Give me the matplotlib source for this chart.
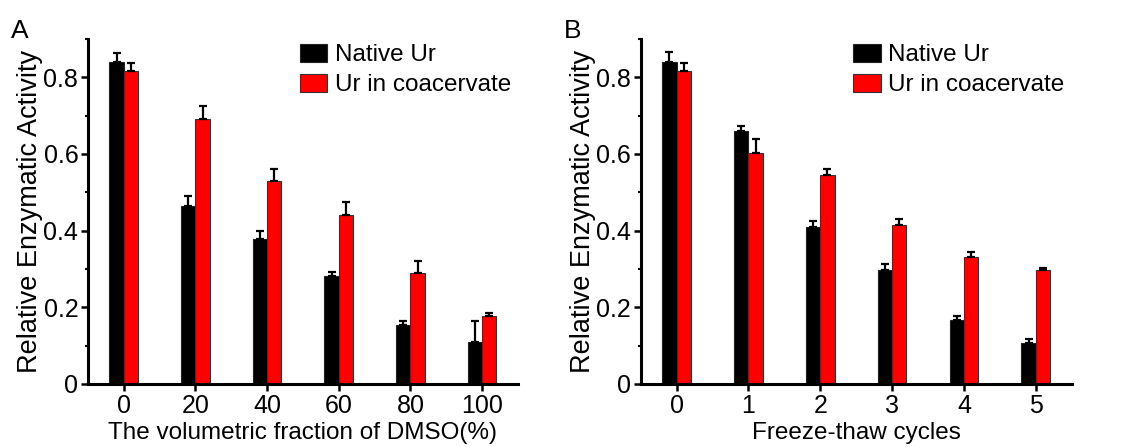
import numpy as np
import matplotlib
matplotlib.use('Agg')
import matplotlib.pyplot as plt
from matplotlib.ticker import MultipleLocator

plt.rcParams['font.family'] = ['Liberation Sans', 'DejaVu Sans']

# panel A: DMSO fraction
dmso = [0, 20, 40, 60, 80, 100]
dmso_native = [0.839, 0.463, 0.377, 0.281, 0.155, 0.110]
dmso_native_err = [0.024, 0.027, 0.022, 0.012, 0.009, 0.053]
dmso_coac = [0.815, 0.692, 0.530, 0.440, 0.290, 0.177]
dmso_coac_err = [0.021, 0.034, 0.030, 0.035, 0.030, 0.009]

# panel B: freeze-thaw cycles
cycles = [0, 1, 2, 3, 4, 5]
ft_native = [0.839, 0.661, 0.409, 0.297, 0.166, 0.106]
ft_native_err = [0.026, 0.011, 0.015, 0.015, 0.011, 0.012]
ft_coac = [0.815, 0.602, 0.545, 0.414, 0.330, 0.296]
ft_coac_err = [0.022, 0.037, 0.016, 0.015, 0.013, 0.006]

fig = plt.figure(figsize=(11.21, 4.47), dpi=100)
axA = fig.add_axes([0.0785, 0.141, 0.3835, 0.772])
axB = fig.add_axes([0.5715, 0.141, 0.3845, 0.772])

ekw = dict(elinewidth=1.6, capthick=1.6, capsize=3.2, ecolor='black')


def draw(ax, x, nat, nat_err, coa, coa_err, width, xlabel, ticklabels):
    x = np.array(x, dtype=float)
    z = np.zeros(len(x))
    ax.bar(x - width / 2, nat, width, yerr=[z, nat_err], color='black',
           edgecolor='#222222', linewidth=0.8, error_kw=ekw, label='Native Ur')
    ax.bar(x + width / 2, coa, width, yerr=[z, coa_err], color='#ff0000',
           edgecolor='#333333', linewidth=0.8, error_kw=ekw, label='Ur in coacervate')
    ax.set_ylim(0, 0.9)
    ax.set_yticks([0, 0.2, 0.4, 0.6, 0.8])
    ax.set_yticklabels(['0', '0.2', '0.4', '0.6', '0.8'])
    ax.yaxis.set_minor_locator(MultipleLocator(0.1))
    ax.set_xticks(x)
    ax.set_xticklabels(ticklabels)
    for s in ['top', 'right']:
        ax.spines[s].set_visible(False)
    for s in ['left', 'bottom']:
        ax.spines[s].set_linewidth(2.2)
    ax.tick_params(axis='both', which='major', direction='out', length=5,
                   width=1.8, labelsize=18, pad=2)
    ax.tick_params(axis='y', which='minor', direction='out', length=2.5, width=1.5)
    ax.set_xlabel(xlabel, fontsize=17.5, labelpad=3)
    ax.set_ylabel('Relative Enzymatic Activity', fontsize=19.5, labelpad=0)
    ax.legend(loc='upper left', frameon=False, fontsize=17.5, handlelength=1.15,
              handleheight=0.75, handletextpad=0.3, labelspacing=0.3,
              borderaxespad=0.0, borderpad=0.0, bbox_to_anchor=(0.492, 0.985))


draw(axA, dmso, dmso_native, dmso_native_err, dmso_coac, dmso_coac_err, 4.0,
     'The volumetric fraction of DMSO(%)', [str(v) for v in dmso])
axA.set_xlim(-10, 110)

draw(axB, cycles, ft_native, ft_native_err, ft_coac, ft_coac_err, 0.2,
     'Freeze-thaw cycles', [str(v) for v in cycles])
axB.set_xlim(-0.5, 5.5)

fig.text(0.010, 0.915, 'A', fontsize=19)
fig.text(0.503, 0.915, 'B', fontsize=19)

fig.savefig('out.png', dpi=100)
